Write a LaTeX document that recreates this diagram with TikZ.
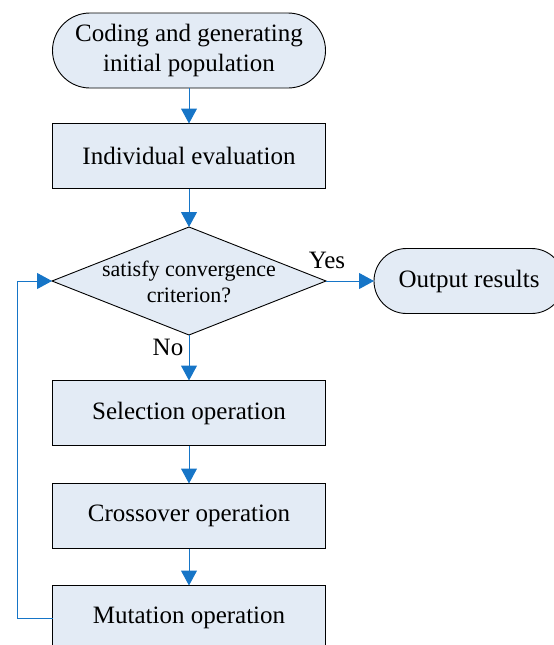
\documentclass[tikz,border=0pt]{standalone}
\usepackage{fontspec}
\setmainfont{Liberation Serif}
\usetikzlibrary{shapes.geometric,arrows.meta}
\definecolor{boxfill}{RGB}{227,235,245}
\definecolor{arrowblue}{RGB}{22,117,199}
\begin{document}
\begin{tikzpicture}[x=1pt,y=-1pt,
  box/.style={draw=black, line width=0.9pt, fill=boxfill, minimum width=273pt, minimum height=65pt,
    inner sep=0pt, outer sep=0pt, font=\fontsize{25}{29.5}\selectfont, align=center},
  term/.style={box, rounded corners=#1},
  decision/.style={diamond, draw=black, line width=0.9pt, fill=boxfill, minimum width=274pt,
    minimum height=108pt, inner sep=0pt, outer sep=0pt},
  lbl/.style={font=\fontsize{25}{29}\selectfont, inner sep=0pt},
  arr/.style={draw=arrowblue, line width=1pt, -{Triangle[length=15pt,width=16pt]}, arrowblue}
]
\useasboundingbox (0,0) rectangle (554,645);
\clip (0,0) rectangle (554,645);

\node[term=37.5pt, minimum height=75pt] (start) at (189,50.5) {Coding and generating\\initial population};
\node[box] (eval) at (189,156) {Individual evaluation};
\node[decision] (dec) at (189,281) {};
\node[font=\fontsize{22}{26}\selectfont, align=center, inner sep=0pt] (dtext) at (189,282) {satisfy convergence\\criterion?};
\node[term=32.5pt, minimum width=190pt, minimum height=65pt] (out) at (469,281) {Output results};
\node[box] (sel) at (189,413) {Selection operation};
\node[box] (cro) at (189,516) {Crossover operation};
\node[box] (mut) at (189,618) {Mutation operation};

\node[lbl] (yes) at (327,260) {Yes};
\node[lbl] (no) at (168,347) {No};

\coordinate (fb) at (17,0);

\draw[arr] (start) -- (eval);
\draw[arr] (eval) -- (dec);
\draw[arr] (dec.east) -- (out.west);
\draw[arr] (dec.south) -- (sel);
\draw[arr] (sel) -- (cro);
\draw[arr] (cro) -- (mut);
\draw[arr] (mut.west) -- (mut.west -| fb) -- (dec.west -| fb) -- (dec.west);
\end{tikzpicture}
\end{document}
